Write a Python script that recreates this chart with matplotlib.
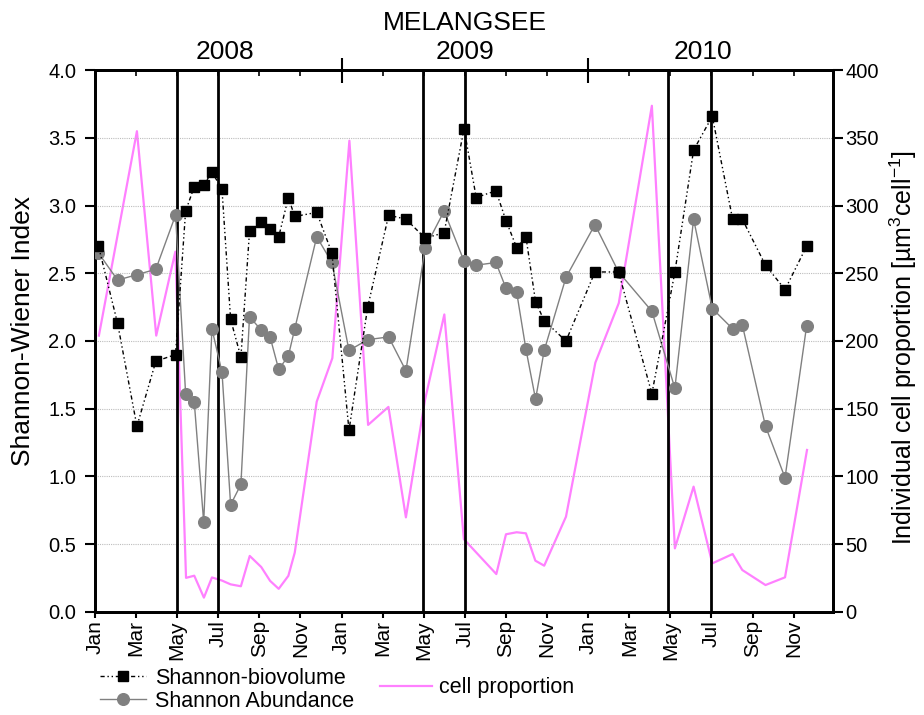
import matplotlib
matplotlib.use("Agg")
import matplotlib.pyplot as plt
import matplotlib.transforms as mtransforms
import numpy as np

plt.rcParams['font.family'] = ['Liberation Sans', 'DejaVu Sans']
plt.rcParams['mathtext.fontset'] = 'custom'
plt.rcParams['mathtext.rm'] = 'Liberation Sans'
plt.rcParams['mathtext.it'] = 'Liberation Sans:italic'

# ---- data (months since Jan 2008) ----
sample_months = [0.17, 1.1, 2.04, 2.96, 3.92, 4.41, 4.83, 5.29, 5.69, 6.18,
                 6.6, 7.1, 7.52, 8.09, 8.52, 8.94, 9.41, 9.72, 10.79, 11.53,
                 12.36, 13.27, 14.29, 15.13, 16.07, 16.99, 17.96, 18.55, 19.51, 20.0,
                 20.52, 20.97, 21.44, 21.86, 22.92, 24.33, 25.48, 27.1, 28.22, 29.13,
                 30.04, 31.03, 31.5, 32.63, 33.58, 34.63]
shannon_biovolume = [2.70, 2.13, 1.37, 1.85, 1.90, 2.96, 3.14, 3.15, 3.25, 3.12,
                     2.16, 1.88, 2.81, 2.88, 2.83, 2.77, 3.06, 2.92, 2.95, 2.65,
                     1.34, 2.25, 2.93, 2.90, 2.76, 2.80, 3.57, 3.06, 3.11, 2.89,
                     2.69, 2.77, 2.29, 2.15, 2.00, 2.51, 2.51, 1.61, 2.51, 3.41,
                     3.66, 2.90, 2.90, 2.56, 2.38, 2.70]
shannon_abundance = [2.65, 2.45, 2.49, 2.53, 2.93, 1.61, 1.55, 0.66, 2.09, 1.77,
                     0.79, 0.94, 2.18, 2.08, 2.03, 1.79, 1.89, 2.09, 2.77, 2.58,
                     1.93, 2.01, 2.03, 1.78, 2.69, 2.96, 2.59, 2.56, 2.58, 2.39,
                     2.36, 1.94, 1.57, 1.93, 2.47, 2.86, 2.51, 2.22, 1.65, 2.90,
                     2.24, 2.09, 2.12, 1.37, 0.99, 2.11]
cell_months = [0.19, 2.04, 2.98, 3.91, 4.43, 4.83, 5.3, 5.69, 6.18, 6.6,
               7.1, 7.53, 8.09, 8.52, 8.94, 9.41, 9.72, 10.79, 11.55, 12.38,
               13.29, 14.28, 15.13, 16.06, 17.0, 17.95, 19.53, 20.0, 20.52, 20.97,
               21.43, 21.86, 22.92, 24.35, 25.49, 27.1, 28.22, 29.13, 30.04, 31.03,
               31.5, 32.63, 33.58, 34.65]
cell_proportion = [204, 355, 204, 266, 25, 26.6, 10.4, 25.3, 23, 20.2,
                   18.8, 41.2, 33, 22.8, 16.9, 26.5, 43.6, 155.2, 187.3, 348,
                   138, 151.3, 69.7, 156.5, 219.6, 53.6, 27.8, 57.2, 58.7, 57.9,
                   37.7, 34, 70.2, 184, 228, 373.8, 46.8, 92.4, 35.7, 42.6,
                   30.8, 19.7, 25.4, 119.5]
period_lines = [4, 6, 15.95, 18, 27.9, 30]     # May / Jul of each year
month_ticks = list(range(0, 36, 2))
month_labels = ['Jan', 'Mar', 'May', 'Jul', 'Sep', 'Nov'] * 3
year_labels = ['2008', '2009', '2010']
year_label_pos = [6.3, 18.0, 29.6]
year_breaks = [12, 24]

# ---- figure ----
W, H = 924, 715
fig = plt.figure(figsize=(W / 100, H / 100), dpi=100)
L, R, T, B = 95, 832.7, 70.3, 611.7
ax = fig.add_axes([L / W, 1 - B / H, (R - L) / W, (B - T) / H])
ax2 = ax.twinx()
ax.set_zorder(ax2.get_zorder() + 1)
ax.patch.set_visible(False)

for a in (ax, ax2):
    for s in a.spines.values():
        s.set_linewidth(2)

# grid
ax.set_yticks(np.arange(0, 4.01, 0.5))
ax.yaxis.grid(True, linestyle=(0, (1, 1)), color='#bdbdbd', linewidth=0.8)
ax.set_axisbelow(True)

for m in period_lines:
    ax.axvline(m, color='black', linewidth=2, zorder=1)

l1, = ax.plot(sample_months, shannon_biovolume, color='black', linewidth=1,
              linestyle=(0, (3, 2, 1, 2, 1, 2)), marker='s', markersize=7.7,
              markerfacecolor='black', markeredgecolor='black',
              label='Shannon-biovolume', zorder=4)
l2, = ax.plot(sample_months, shannon_abundance, color='#808080', linewidth=1,
              marker='o', markersize=8.4, markerfacecolor='#808080',
              markeredgecolor='#808080', label='Shannon Abundance', zorder=3)
l3, = ax2.plot(cell_months, cell_proportion, color='#ff80ff', linewidth=1.6,
               label='cell proportion')

ax.set_xlim(0, 35.9)
ax.set_ylim(0, 4)
ax2.set_ylim(0, 400)
ax2.set_yticks(np.arange(0, 401, 50))

ax.set_xticks(month_ticks)
ax.set_xticklabels(month_labels, rotation=90, fontsize=15)
ax.set_yticklabels(['%.1f' % v for v in np.arange(0, 4.01, 0.5)], fontsize=14.5)
ax.tick_params(axis='x', direction='out', length=4, width=1.5, pad=2)
ax.tick_params(axis='y', direction='out', length=7.5, width=1.5, pad=6)
ax2.tick_params(axis='y', direction='out', length=7.5, width=1.5, pad=1.5,
                labelsize=14.5)

# top axis
sec = ax.secondary_xaxis('top')
sec.set_xticks(year_breaks)
sec.set_xticks(month_ticks, minor=True)
sec.tick_params(axis='x', which='major', direction='inout', length=18, width=1.5,
                labeltop=False)
sec.tick_params(axis='x', which='minor', direction='in', length=4, width=1.2)
sec.spines['top'].set_linewidth(2)

trans = mtransforms.blended_transform_factory(ax.transData, ax.transAxes)
for xp, lab in zip(year_label_pos, year_labels):
    ax.text(xp, 1.0203, lab, transform=trans, ha='center', va='baseline',
            fontsize=19)

fig.text(465 / W, 1 - 30 / H, 'MELANGSEE', ha='center', va='baseline', fontsize=19)
fig.text(23 / W, 1 - 331.5 / H, 'Shannon-Wiener Index', rotation=90,
         ha='center', va='center', fontsize=19)
fig.text(903 / W, 1 - 348 / H, r'Individual cell proportion [µm$^{3}$cell$^{-1}$]',
         rotation=90, ha='center', va='center', fontsize=18)

leg1 = fig.legend(handles=[l1, l2], loc='center left',
                  bbox_to_anchor=(100 / W, 1 - 689.7 / H), frameon=False,
                  fontsize=15.5, handlelength=2.15, handletextpad=0.4,
                  labelspacing=0.1, borderpad=0, borderaxespad=0)
leg2 = fig.legend(handles=[l3], loc='center left',
                  bbox_to_anchor=(380 / W, 1 - 687.7 / H), frameon=False,
                  fontsize=15.5, handlelength=2.4, handletextpad=0.35,
                  borderpad=0, borderaxespad=0)

fig.savefig('out.png', dpi=100)
